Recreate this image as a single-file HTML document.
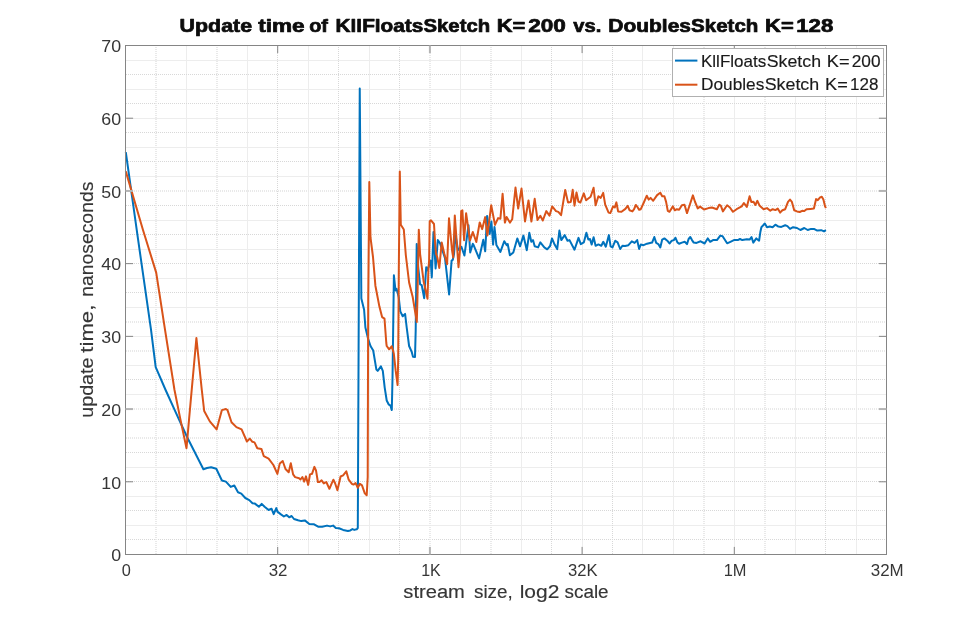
<!DOCTYPE html><html><head><meta charset="utf-8"><title>chart</title><style>html,body{margin:0;padding:0;background:#fff}svg{display:block;will-change:transform}text{font-family:"Liberation Sans",sans-serif}</style></head><body>
<svg width="979" height="622" viewBox="0 0 979 622">
<rect width="979" height="622" fill="#fff"/>
<g fill="none" stroke-width="1">
<line x1="125.5" x2="886.5" y1="60.5" y2="60.5" stroke="#ededed"/>
<line x1="125.5" x2="886.5" y1="89.5" y2="89.5" stroke="#ededed"/>
<line x1="125.5" x2="886.5" y1="118.5" y2="118.5" stroke="#ededed"/>
<line x1="125.5" x2="886.5" y1="147.5" y2="147.5" stroke="#ededed"/>
<line x1="125.5" x2="886.5" y1="176.5" y2="176.5" stroke="#ededed"/>
<line x1="125.5" x2="886.5" y1="220.5" y2="220.5" stroke="#ededed"/>
<line x1="125.5" x2="886.5" y1="249.5" y2="249.5" stroke="#ededed"/>
<line x1="125.5" x2="886.5" y1="278.5" y2="278.5" stroke="#ededed"/>
<line x1="125.5" x2="886.5" y1="307.5" y2="307.5" stroke="#ededed"/>
<line x1="125.5" x2="886.5" y1="336.5" y2="336.5" stroke="#ededed"/>
<line x1="125.5" x2="886.5" y1="365.5" y2="365.5" stroke="#ededed"/>
<line x1="125.5" x2="886.5" y1="394.5" y2="394.5" stroke="#ededed"/>
<line x1="125.5" x2="886.5" y1="423.5" y2="423.5" stroke="#ededed"/>
<line x1="125.5" x2="886.5" y1="467.5" y2="467.5" stroke="#ededed"/>
<line x1="125.5" x2="886.5" y1="496.5" y2="496.5" stroke="#ededed"/>
<line x1="125.5" x2="886.5" y1="525.5" y2="525.5" stroke="#ededed"/>
<line y1="45.5" y2="554.5" x1="186.5" x2="186.5" stroke="#ededed"/>
<line y1="45.5" y2="554.5" x1="247.5" x2="247.5" stroke="#ededed"/>
<line y1="45.5" y2="554.5" x1="308.5" x2="308.5" stroke="#ededed"/>
<line y1="45.5" y2="554.5" x1="369.5" x2="369.5" stroke="#ededed"/>
<line y1="45.5" y2="554.5" x1="460.5" x2="460.5" stroke="#ededed"/>
<line y1="45.5" y2="554.5" x1="521.5" x2="521.5" stroke="#ededed"/>
<line y1="45.5" y2="554.5" x1="582.5" x2="582.5" stroke="#ededed"/>
<line y1="45.5" y2="554.5" x1="642.5" x2="642.5" stroke="#ededed"/>
<line y1="45.5" y2="554.5" x1="673.5" x2="673.5" stroke="#ededed"/>
<line y1="45.5" y2="554.5" x1="734.5" x2="734.5" stroke="#ededed"/>
<line y1="45.5" y2="554.5" x1="795.5" x2="795.5" stroke="#ededed"/>
<line y1="45.5" y2="554.5" x1="856.5" x2="856.5" stroke="#ededed"/>
</g>
<g fill="none" shape-rendering="crispEdges">
<line x1="126" x2="886" y1="74.5" y2="74.5" stroke="#d8d8d8" stroke-width="1" stroke-dasharray="1 1"/>
<line x1="126" x2="886" y1="103.5" y2="103.5" stroke="#d8d8d8" stroke-width="1" stroke-dasharray="1 1"/>
<line x1="126" x2="886" y1="132.5" y2="132.5" stroke="#d8d8d8" stroke-width="1" stroke-dasharray="1 1"/>
<line x1="126" x2="886" y1="161.5" y2="161.5" stroke="#d8d8d8" stroke-width="1" stroke-dasharray="1 1"/>
<line x1="126" x2="886" y1="205.5" y2="205.5" stroke="#d8d8d8" stroke-width="1" stroke-dasharray="1 1"/>
<line x1="126" x2="886" y1="234.5" y2="234.5" stroke="#d8d8d8" stroke-width="1" stroke-dasharray="1 1"/>
<line x1="126" x2="886" y1="263.5" y2="263.5" stroke="#d8d8d8" stroke-width="1" stroke-dasharray="1 1"/>
<line x1="126" x2="886" y1="292.5" y2="292.5" stroke="#d8d8d8" stroke-width="1" stroke-dasharray="1 1"/>
<line x1="126" x2="886" y1="379.5" y2="379.5" stroke="#d8d8d8" stroke-width="1" stroke-dasharray="1 1"/>
<line x1="126" x2="886" y1="452.5" y2="452.5" stroke="#d8d8d8" stroke-width="1" stroke-dasharray="1 1"/>
<line x1="126" x2="886" y1="481.5" y2="481.5" stroke="#d8d8d8" stroke-width="1" stroke-dasharray="1 1"/>
<line x1="126" x2="886" y1="510.5" y2="510.5" stroke="#d8d8d8" stroke-width="1" stroke-dasharray="1 1"/>
<line x1="126" x2="886" y1="539.5" y2="539.5" stroke="#d8d8d8" stroke-width="1" stroke-dasharray="1 1"/>
<line x1="126" x2="886" y1="191" y2="191" stroke="#e9e9e9" stroke-width="2" stroke-dasharray="1 1"/>
<line x1="126" x2="886" y1="322" y2="322" stroke="#e9e9e9" stroke-width="2" stroke-dasharray="1 1"/>
<line x1="126" x2="886" y1="351" y2="351" stroke="#e9e9e9" stroke-width="2" stroke-dasharray="1 1"/>
<line x1="126" x2="886" y1="409" y2="409" stroke="#e9e9e9" stroke-width="2" stroke-dasharray="1 1"/>
<line x1="126" x2="886" y1="438" y2="438" stroke="#e9e9e9" stroke-width="2" stroke-dasharray="1 1"/>
<line y1="47" y2="554" x1="277.5" x2="277.5" stroke="#d8d8d8" stroke-width="1" stroke-dasharray="1 1"/>
<line y1="47" y2="554" x1="338.5" x2="338.5" stroke="#d8d8d8" stroke-width="1" stroke-dasharray="1 1"/>
<line y1="47" y2="554" x1="399.5" x2="399.5" stroke="#d8d8d8" stroke-width="1" stroke-dasharray="1 1"/>
<line y1="47" y2="554" x1="551.5" x2="551.5" stroke="#d8d8d8" stroke-width="1" stroke-dasharray="1 1"/>
<line y1="47" y2="554" x1="612.5" x2="612.5" stroke="#d8d8d8" stroke-width="1" stroke-dasharray="1 1"/>
<line y1="47" y2="554" x1="825.5" x2="825.5" stroke="#d8d8d8" stroke-width="1" stroke-dasharray="1 1"/>
<line y1="47" y2="554" x1="156" x2="156" stroke="#e9e9e9" stroke-width="2" stroke-dasharray="1 1"/>
<line y1="47" y2="554" x1="217" x2="217" stroke="#e9e9e9" stroke-width="2" stroke-dasharray="1 1"/>
<line y1="47" y2="554" x1="430" x2="430" stroke="#e9e9e9" stroke-width="2" stroke-dasharray="1 1"/>
<line y1="47" y2="554" x1="491" x2="491" stroke="#e9e9e9" stroke-width="2" stroke-dasharray="1 1"/>
<line y1="47" y2="554" x1="704" x2="704" stroke="#e9e9e9" stroke-width="2" stroke-dasharray="1 1"/>
<line y1="47" y2="554" x1="765" x2="765" stroke="#e9e9e9" stroke-width="2" stroke-dasharray="1 1"/>
</g>
<path d="M125.8,152.1 L138.0,238.9 L151.0,329.7 L155.7,367.1 L165.6,390.0 L178.7,418.9 L187.3,437.5 L203.4,469.3 L207.0,468.0 L211.1,467.2 L216.3,468.8 L221.9,480.5 L225.9,481.6 L230.7,486.9 L234.3,485.5 L238.0,492.3 L241.3,493.6 L245.3,498.0 L249.3,500.1 L252.5,503.3 L254.9,503.6 L258.9,506.8 L261.7,503.9 L264.6,506.8 L268.6,510.0 L271.5,508.7 L273.7,514.1 L276.3,508.1 L277.4,511.6 L280.6,514.1 L283.9,516.5 L286.6,514.9 L289.2,517.3 L291.6,516.0 L294.0,519.0 L298.0,520.3 L301.3,521.1 L304.8,520.4 L309.3,524.0 L314.1,524.3 L318.1,526.7 L322.2,526.7 L327.0,525.6 L330.2,526.4 L333.1,525.6 L335.8,528.0 L339.0,528.3 L343.1,529.9 L347.9,530.9 L350.3,530.4 L352.4,529.1 L354.3,529.9 L356.7,529.3 L357.8,528.0 L359.75,88.6 L361.35,298.6 L364.1,309.8 L365.4,327.5 L368.1,338.8 L370.5,346.0 L373.2,350.5 L376.4,369.6 L377.7,370.9 L380.9,366.4 L382.8,370.9 L384.7,387.6 L386.7,400.5 L388.6,404.3 L390.5,405.6 L391.8,410.1 L392.5,378.6 L393.9,275.3 L395.5,290.5 L396.6,288.9 L398.7,297.0 L400.3,311.4 L402.7,316.3 L405.1,313.9 L406.7,327.5 L409.1,346.0 L411.6,351.6 L413.0,356.7 L415.0,357.1 L415.7,330 L416.7,243.9 L418.1,266.3 L420.1,284.3 L421.7,285.1 L424.2,298.2 L426.2,267.2 L427.5,270.4 L430.7,260.6 L431.8,277.4 L433.5,232.0 L435.6,268.4 L437.8,240.1 L440.1,243.4 L445.0,258.2 L449.1,294.5 L451.6,260.6 L452.8,259.8 L454.0,254.1 L455.5,235.0 L458.0,250 L461.4,246.7 L464.4,255.5 L468.5,225.3 L470.2,252.5 L472.8,243.8 L473.4,244.6 L479.1,258.4 L483.3,239.8 L485.2,251.3 L487.1,215.9 L489.7,233.9 L491.4,221.5 L493.1,244.6 L494.5,227.1 L496.4,245.1 L500.4,251.9 L504.3,241.2 L506.6,245.1 L507.7,244.0 L509.9,255.3 L513.3,252.4 L517.3,238.4 L520.1,246.3 L523.4,235.6 L526.8,250.2 L529.3,232.8 L531.3,241.8 L533.0,240.1 L534.7,246.3 L538.1,247.4 L540.3,242.3 L544.3,247.4 L547.2,249.3 L550.1,246.0 L552.0,238.4 L554.6,244.6 L557.2,249.1 L559.4,230.6 L561.3,240.1 L564.7,235.1 L567.5,240.7 L569.5,240.1 L574.5,249.7 L578.5,237.9 L580.8,244.1 L583.8,242.4 L586.4,232.8 L588.3,239.6 L590.0,239.0 L591.7,244.6 L593.6,237.3 L595.6,245.8 L598.4,244.4 L601.3,245.8 L603.3,241.8 L605.8,246.7 L608.9,235.1 L610.6,246.3 L612.5,247.4 L615.3,240.7 L617.6,242.4 L620.2,249.0 L622.4,245.8 L625.1,246.0 L628.4,245.2 L631.8,241.3 L634.6,242.9 L637.2,240.1 L639.1,248.9 L640.8,244.6 L643.6,245.2 L647.0,243.7 L652.1,242.6 L654.3,237.0 L656.2,242.9 L658.3,244.1 L660.3,247.4 L662.2,239.6 L664.4,238.4 L667.3,240.7 L669.5,243.5 L671.8,240.7 L673.8,240.1 L675.4,237.7 L677.4,242.4 L679.1,243.7 L681.9,242.6 L684.7,241.8 L687.0,244.1 L688.6,239.0 L690.3,237.0 L692.0,240.1 L693.7,242.6 L696.5,242.9 L700.6,241.3 L704.6,243.5 L707.7,238.4 L710.2,241.8 L713.0,240.1 L716.9,240.1 L720.3,235.6 L722.6,236.2 L727.1,243.3 L730.4,241.8 L734.4,239.9 L737.8,240.1 L740.0,239.0 L742.3,240.1 L746.8,239.3 L749.6,239.6 L751.5,237.0 L753.3,242.6 L756.3,238.4 L759.1,240.7 L760.3,232.3 L761.4,227.2 L764.8,223.5 L767.0,227.2 L769.8,226.6 L772.6,227.2 L775.4,224.7 L778.4,226.6 L781.3,226.9 L785.2,225.3 L787.4,226.1 L790.0,228.9 L793.1,227.2 L797.0,228.0 L800.4,230.0 L804.3,228.0 L807.7,230.0 L811.1,228.9 L814.4,229.1 L817.3,230.6 L821.2,230.2 L824.0,231.4 L825.9,230.2" fill="none" stroke="#0072bd" stroke-width="2" stroke-linejoin="round" stroke-linecap="butt"/>
<path d="M125.8,171.4 L143.0,230.0 L156.2,272.6 L165.0,329.7 L174.5,390 L180.3,418.9 L186.5,448.2 L189.1,418.9 L196.4,338.0 L201.8,390 L204.2,411.0 L209.8,421.4 L216.6,429.4 L221.9,410.1 L225.9,409.0 L227.5,410.1 L231.5,422.2 L236.4,427.1 L241.6,429.4 L246.9,441.5 L249.8,438.6 L252.4,441.8 L254.5,442.4 L257.3,448.2 L261.4,448.9 L263.8,456.2 L268.6,458.6 L273.4,465.0 L277.4,473.9 L279.8,463.4 L282.7,461.0 L285.5,469.0 L288.7,472.3 L290.8,463.3 L293.1,474.4 L295.1,477.1 L299.1,478.2 L300.5,479.5 L302.4,477.0 L304.2,481.6 L306.0,476.4 L308.2,484.9 L310.0,474.4 L312.0,473.8 L314.4,466.9 L316.0,470.4 L317.9,482.0 L319.5,482.0 L321.6,480.3 L323.8,483.4 L326.3,482.0 L329.4,488.8 L331.5,483.8 L333.4,479.7 L335.0,483.0 L337.4,490.2 L340.6,476.5 L343.1,475.4 L346.3,471.4 L348.7,479.7 L351.9,483.8 L353.5,484.6 L355.6,483.0 L357.8,487.8 L359.9,483.8 L362.0,485.4 L364.8,493.4 L366.7,495.3 L367.7,477.3 L368.2,300 L369.3,182.1 L370.5,237.5 L373.0,257 L375.4,285.7 L379.4,306.6 L382.1,317.1 L384.5,318.7 L386.3,343 L386.7,346.0 L389.2,349.3 L391.8,346.2 L393.8,353.5 L395.7,370.9 L397.6,385.0 L398.2,359.3 L398.8,269.7 L399.8,171.6 L400.8,224.7 L403.8,229.5 L405.8,255 L409.1,282.5 L412.7,297 L416.8,321.9 L417.4,300 L418.8,229.7 L420.1,254.1 L423.7,281.8 L427.5,298.8 L428.4,269.7 L429.1,260.6 L429.7,221.3 L431.0,220.3 L434.0,224.0 L435.1,242.6 L436.0,253.6 L437.3,257.4 L439.3,268.0 L441.7,242.6 L444.2,253.3 L447.1,264.3 L449.0,218.3 L452.0,250 L453.2,257.4 L454.8,215.5 L457.3,250 L458.5,267.2 L460.0,250 L461.2,211.0 L462.4,210.3 L464.1,240.2 L466.1,213.2 L470.0,240.5 L472.8,232.0 L476.3,242.0 L479.7,222.4 L482.2,229.1 L485.2,217.1 L487.4,235.6 L491.2,205.2 L495.0,224.9 L498.1,218.1 L500.4,218.7 L502.6,193.8 L504.9,222.6 L506.6,217.0 L509.9,222.6 L512.2,219.3 L515.5,187.6 L518.2,208.5 L521.5,188.6 L525.0,221.5 L528.5,200.4 L531.4,221.5 L534.7,198.8 L537.5,220.0 L540.3,215.8 L542.8,220.5 L546.3,211.1 L549.5,215.6 L552.2,206.4 L556.0,211.1 L558.3,211.9 L561.1,215.2 L565.2,190.0 L568.0,202.4 L570.8,201.9 L572.7,189.8 L574.5,205.7 L576.5,192.5 L578.4,201.5 L580.4,202.5 L583.8,193.4 L586.1,200.2 L590.6,196.8 L593.6,187.8 L595.6,205.3 L598.4,196.3 L600.7,197.9 L603.2,192.9 L605.2,204.7 L608.6,212.6 L610.3,213.1 L613.1,206.4 L614.8,207.5 L616.4,202.4 L618.1,211.4 L621.5,211.8 L625.4,208.9 L627.7,205.8 L629.6,210.3 L632.4,211.4 L634.1,209.2 L635.8,205.0 L637.4,206.9 L639.1,209.8 L640.8,209.2 L643.6,203.0 L646.8,195.7 L648.7,199.6 L650.6,197.9 L653.2,200.8 L657.1,195.1 L660.3,192.7 L662.2,196.3 L664.4,196.3 L666.1,201.9 L667.8,210.9 L669.5,211.8 L672.9,206.4 L674.8,210.3 L676.8,209.2 L679.1,209.8 L681.9,205.3 L684.5,204.7 L687.0,213.1 L689.8,204.7 L692.9,195.4 L694.9,201.5 L697.7,208.4 L700.1,206.6 L704.0,209.5 L708.5,208.1 L711.9,207.5 L716.9,209.2 L719.2,204.7 L720.9,205.8 L722.9,211.4 L727.1,205.3 L729.9,207.5 L733.0,211.8 L736.6,209.2 L741.7,206.4 L743.9,203.0 L746.8,206.9 L749.6,196.3 L751.3,201.9 L753.5,201.7 L755.4,205.0 L757.4,200.8 L759.7,205.8 L763.6,209.2 L767.0,208.1 L770.3,210.7 L772.7,209.2 L775.4,210.1 L777.7,208.6 L780.1,212.6 L782.4,210.3 L785.2,209.2 L788.0,201.9 L790.0,199.6 L791.9,201.9 L794.2,210.3 L797.0,211.4 L799.8,212.0 L802.6,210.7 L804.3,211.1 L806.6,209.2 L810.5,208.9 L813.9,208.6 L816.1,199.1 L817.8,200.2 L820.1,197.4 L821.8,196.8 L823.4,199.6 L825.1,206.4 L825.9,208.1" fill="none" stroke="#d95319" stroke-width="2" stroke-linejoin="round" stroke-linecap="butt"/>
<g fill="none" stroke="#858585" stroke-width="1">
<rect x="125.5" y="45.5" width="761.0" height="509.0"/>
<line x1="277.70" x2="277.70" y1="554.5" y2="546.9"/>
<line x1="277.70" x2="277.70" y1="45.5" y2="53.1"/>
<line x1="429.90" x2="429.90" y1="554.5" y2="546.9" stroke="#b4b4b4" stroke-width="2"/>
<line x1="429.90" x2="429.90" y1="45.5" y2="53.1" stroke="#b4b4b4" stroke-width="2"/>
<line x1="582.10" x2="582.10" y1="554.5" y2="546.9"/>
<line x1="582.10" x2="582.10" y1="45.5" y2="53.1"/>
<line x1="734.30" x2="734.30" y1="554.5" y2="546.9"/>
<line x1="734.30" x2="734.30" y1="45.5" y2="53.1"/>
<line y1="481.79" y2="481.79" x1="125.5" x2="133.1"/>
<line y1="481.79" y2="481.79" x1="886.5" x2="878.9"/>
<line y1="409.07" y2="409.07" x1="125.5" x2="133.1" stroke="#b4b4b4" stroke-width="2"/>
<line y1="409.07" y2="409.07" x1="886.5" x2="878.9" stroke="#b4b4b4" stroke-width="2"/>
<line y1="336.36" y2="336.36" x1="125.5" x2="133.1"/>
<line y1="336.36" y2="336.36" x1="886.5" x2="878.9"/>
<line y1="263.64" y2="263.64" x1="125.5" x2="133.1"/>
<line y1="263.64" y2="263.64" x1="886.5" x2="878.9"/>
<line y1="190.93" y2="190.93" x1="125.5" x2="133.1" stroke="#b4b4b4" stroke-width="2"/>
<line y1="190.93" y2="190.93" x1="886.5" x2="878.9" stroke="#b4b4b4" stroke-width="2"/>
<line y1="118.21" y2="118.21" x1="125.5" x2="133.1"/>
<line y1="118.21" y2="118.21" x1="886.5" x2="878.9"/>
</g>
<text id="y0" transform="translate(111.24,561.00) scale(1.1125,1)" font-size="16.0" fill="#363636">0</text>
<text id="y10" transform="translate(101.36,489.00) scale(1.1125,1)" font-size="16.0" fill="#363636">10</text>
<text id="y20" transform="translate(101.36,416.00) scale(1.1125,1)" font-size="16.0" fill="#363636">20</text>
<text id="y30" transform="translate(101.36,343.00) scale(1.1125,1)" font-size="16.0" fill="#363636">30</text>
<text id="y40" transform="translate(101.36,270.00) scale(1.1125,1)" font-size="16.0" fill="#363636">40</text>
<text id="y50" transform="translate(101.36,198.00) scale(1.1125,1)" font-size="16.0" fill="#363636">50</text>
<text id="y60" transform="translate(101.36,125.00) scale(1.1125,1)" font-size="16.0" fill="#363636">60</text>
<text id="y70" transform="translate(101.36,52.00) scale(1.1125,1)" font-size="16.0" fill="#363636">70</text>
<text id="x0" transform="translate(121.70,576.15) scale(1.0209,1)" font-size="16.0" fill="#363636">0</text>
<text id="x1" transform="translate(268.72,576.15) scale(1.0575,1)" font-size="16.0" fill="#363636">32</text>
<text id="x2" transform="translate(421.15,576.15) scale(1.0022,1)" font-size="16.0" fill="#363636">1K</text>
<text id="x3" transform="translate(568.03,576.15) scale(1.0405,1)" font-size="16.0" fill="#363636">32K</text>
<text id="x4" transform="translate(723.72,576.15) scale(1.0264,1)" font-size="16.0" fill="#363636">1M</text>
<text id="x5" transform="translate(870.72,576.15) scale(1.0582,1)" font-size="16.0" fill="#363636">32M</text>
<text id="xl0" transform="translate(403.35,597.50) scale(1.0719,1)" font-size="18.8" fill="#363636" stroke="#363636" stroke-width="0.15">stream</text>
<text id="xl1" transform="translate(473.98,597.50) scale(1.0021,1)" font-size="18.8" fill="#363636" stroke="#363636" stroke-width="0.15">size,</text>
<text id="xl2" transform="translate(519.68,597.50) scale(1.1163,1)" font-size="18.8" fill="#363636" stroke="#363636" stroke-width="0.15">log2</text>
<text id="xl3" transform="translate(564.48,597.50) scale(1.0062,1)" font-size="18.8" fill="#363636" stroke="#363636" stroke-width="0.15">scale</text>
<text id="yl0" transform="translate(93.00,417.78) rotate(-90) scale(1.0494,1)" font-size="18.8" fill="#363636" stroke="#363636" stroke-width="0.15">update</text>
<text id="yl1" transform="translate(93.00,352.63) rotate(-90) scale(1.1760,1)" font-size="18.8" fill="#363636" stroke="#363636" stroke-width="0.15">time,</text>
<text id="yl2" transform="translate(93.00,296.81) rotate(-90) scale(1.0297,1)" font-size="18.8" fill="#363636" stroke="#363636" stroke-width="0.15">nanoseconds</text>
<text id="t0" transform="translate(179.62,31.70) scale(1.1870,1)" font-size="18.0" fill="#0c0c0c" font-weight="bold" stroke="#0c0c0c" stroke-width="0.7" stroke-linejoin="round">Update</text>
<text id="t1" transform="translate(258.22,31.70) scale(1.2548,1)" font-size="18.0" fill="#0c0c0c" font-weight="bold" stroke="#0c0c0c" stroke-width="0.7" stroke-linejoin="round">time</text>
<text id="t2" transform="translate(309.20,31.70) scale(1.1050,1)" font-size="18.0" fill="#0c0c0c" font-weight="bold" stroke="#0c0c0c" stroke-width="0.7" stroke-linejoin="round">of</text>
<text id="t3" transform="translate(335.60,31.70) scale(1.1543,1)" font-size="18.0" fill="#0c0c0c" font-weight="bold" stroke="#0c0c0c" stroke-width="0.7" stroke-linejoin="round">KllFloats</text>
<text id="t4" transform="translate(423.49,31.70) scale(1.1294,1)" font-size="18.0" fill="#0c0c0c" font-weight="bold" stroke="#0c0c0c" stroke-width="0.7" stroke-linejoin="round">Sketch</text>
<text id="t5" transform="translate(496.82,31.70) scale(1.2155,1)" font-size="18.0" fill="#0c0c0c" font-weight="bold" stroke="#0c0c0c" stroke-width="0.7" stroke-linejoin="round">K=</text>
<text id="t6" transform="translate(528.21,31.70) scale(1.2524,1)" font-size="18.0" fill="#0c0c0c" font-weight="bold" stroke="#0c0c0c" stroke-width="0.7" stroke-linejoin="round">200</text>
<text id="t7" transform="translate(573.30,31.70) scale(1.1217,1)" font-size="18.0" fill="#0c0c0c" font-weight="bold" stroke="#0c0c0c" stroke-width="0.7" stroke-linejoin="round">vs.</text>
<text id="t8" transform="translate(608.28,31.70) scale(1.1654,1)" font-size="18.0" fill="#0c0c0c" font-weight="bold" stroke="#0c0c0c" stroke-width="0.7" stroke-linejoin="round">Doubles</text>
<text id="t9" transform="translate(691.08,31.70) scale(1.1399,1)" font-size="18.0" fill="#0c0c0c" font-weight="bold" stroke="#0c0c0c" stroke-width="0.7" stroke-linejoin="round">Sketch</text>
<text id="t10" transform="translate(765.12,31.70) scale(1.2155,1)" font-size="18.0" fill="#0c0c0c" font-weight="bold" stroke="#0c0c0c" stroke-width="0.7" stroke-linejoin="round">K=</text>
<text id="t11" transform="translate(796.21,31.70) scale(1.2346,1)" font-size="18.0" fill="#0c0c0c" font-weight="bold" stroke="#0c0c0c" stroke-width="0.7" stroke-linejoin="round">128</text>
<rect x="672.5" y="48.5" width="211" height="48" fill="#fff" stroke="#b0b0b0" stroke-width="1"/>
<line x1="675" x2="697.4" y1="60.6" y2="60.6" stroke="#0072bd" stroke-width="2"/>
<line x1="675" x2="697.4" y1="84.7" y2="84.7" stroke="#d95319" stroke-width="2"/>
<text id="lg0" transform="translate(701.00,66.50) scale(1.0000,1)" font-size="17.0" fill="#1a1a1a" stroke="#1a1a1a" stroke-width="0.15">KllFloats</text>
<text id="lg1" transform="translate(766.80,66.50) scale(1.0438,1)" font-size="17.0" fill="#1a1a1a" stroke="#1a1a1a" stroke-width="0.15">Sketch</text>
<text id="lg2" transform="translate(826.80,66.50) scale(1.0714,1)" font-size="17.0" fill="#1a1a1a" stroke="#1a1a1a" stroke-width="0.15">K=</text>
<text id="lg3" transform="translate(851.74,66.50) scale(1.0164,1)" font-size="17.0" fill="#1a1a1a" stroke="#1a1a1a" stroke-width="0.15">200</text>
<text id="lg4" transform="translate(700.98,90.40) scale(1.0150,1)" font-size="17.0" fill="#1a1a1a" stroke="#1a1a1a" stroke-width="0.15">Doubles</text>
<text id="lg5" transform="translate(764.70,90.40) scale(1.0497,1)" font-size="17.0" fill="#1a1a1a" stroke="#1a1a1a" stroke-width="0.15">Sketch</text>
<text id="lg6" transform="translate(825.10,90.40) scale(1.0662,1)" font-size="17.0" fill="#1a1a1a" stroke="#1a1a1a" stroke-width="0.15">K=</text>
<text id="lg7" transform="translate(850.02,90.40) scale(1.0019,1)" font-size="17.0" fill="#1a1a1a" stroke="#1a1a1a" stroke-width="0.15">128</text>
</svg></body></html>
